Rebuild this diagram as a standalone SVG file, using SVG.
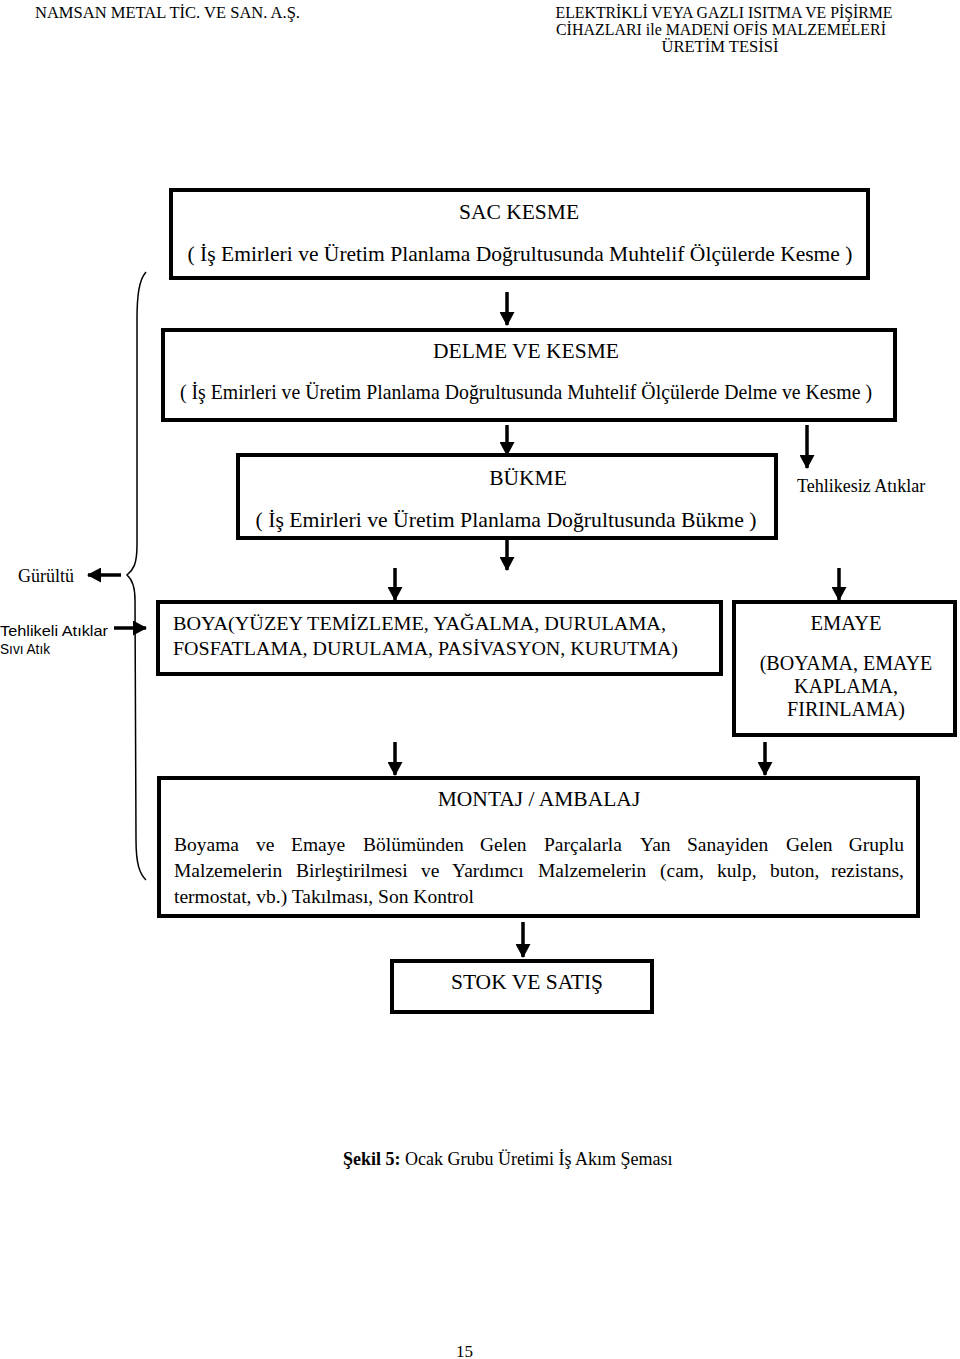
<svg xmlns="http://www.w3.org/2000/svg" width="960" height="1359" viewBox="0 0 960 1359">
<style>
.t{font-family:"Liberation Serif","Times New Roman",serif;fill:#000}
.s{font-family:"Liberation Sans",Arial,sans-serif;fill:#000}
.box{fill:#fff;stroke:#000;stroke-width:4}
.arr{stroke:#000;stroke-width:3.5;fill:none;marker-end:url(#ah)}
</style>
<defs>
<marker id="ah" markerUnits="userSpaceOnUse" markerWidth="15" markerHeight="15" refX="13" refY="7.5" orient="auto">
<path d="M0,0 L14,7.5 L0,15 Z" fill="#000"/>
</marker>
</defs>
<rect width="960" height="1359" fill="#fff"/>

<g id="header">
<text class="t" x="35" y="18" font-size="16" textLength="265" lengthAdjust="spacingAndGlyphs">NAMSAN METAL TİC. VE SAN.  A.Ş.</text>
<text class="t" x="724" y="18" font-size="16" text-anchor="middle" textLength="337" lengthAdjust="spacingAndGlyphs">ELEKTRİKLİ VEYA GAZLI ISITMA VE PİŞİRME</text>
<text class="t" x="721" y="35" font-size="16" text-anchor="middle" textLength="330" lengthAdjust="spacingAndGlyphs">CİHAZLARI ile MADENİ OFİS MALZEMELERİ</text>
<text class="t" x="720" y="52" font-size="16" text-anchor="middle" textLength="117" lengthAdjust="spacingAndGlyphs">ÜRETİM  TESİSİ</text>
</g>

<g id="connectors">
<path d="M146,272 C139,280 137,295 137,320 L137,545 C137,565 133,570 127,575 C133,580 135,588 135,600 L136,840 C136,865 140,874 146,880" fill="none" stroke="#000" stroke-width="1.5"/>
<line class="arr" x1="507" y1="292" x2="507" y2="325"/>
<line class="arr" x1="507" y1="425" x2="507" y2="455"/>
<line class="arr" x1="807" y1="425" x2="807" y2="468"/>
<line class="arr" x1="507" y1="540" x2="507" y2="570"/>
<line class="arr" x1="395" y1="568" x2="395" y2="600"/>
<line class="arr" x1="839" y1="568" x2="839" y2="600"/>
<line class="arr" x1="395" y1="742" x2="395" y2="775"/>
<line class="arr" x1="765" y1="742" x2="765" y2="775"/>
<line class="arr" x1="523" y1="922" x2="523" y2="957"/>
<line class="arr" x1="121" y1="575" x2="88" y2="575"/>
<line class="arr" x1="114" y1="628" x2="146" y2="628"/>
</g>

<g id="labels">
<text class="t" x="797" y="492" font-size="18">Tehlikesiz Atıklar</text>
<text class="t" x="18" y="582" font-size="18">Gürültü</text>
<text class="s" x="0" y="636" font-size="15" textLength="108" lengthAdjust="spacingAndGlyphs">Tehlikeli Atıklar</text>
<text class="s" x="0" y="654" font-size="14" textLength="50" lengthAdjust="spacingAndGlyphs">Sıvı Atık</text>
</g>

<g id="sac-kesme">
<rect class="box" x="171" y="190" width="697" height="88"/>
<text class="t" x="519" y="219" font-size="21.5" text-anchor="middle">SAC KESME</text>
<text class="t" x="520" y="261" font-size="21" text-anchor="middle" textLength="665" lengthAdjust="spacingAndGlyphs">( İş Emirleri ve Üretim Planlama Doğrultusunda Muhtelif Ölçülerde Kesme )</text>
</g>

<g id="delme-kesme">
<rect class="box" x="163" y="330" width="732" height="90"/>
<text class="t" x="526" y="358" font-size="21.5" text-anchor="middle">DELME VE KESME</text>
<text class="t" x="526" y="399" font-size="21" text-anchor="middle" textLength="692" lengthAdjust="spacingAndGlyphs">( İş Emirleri ve Üretim Planlama Doğrultusunda Muhtelif  Ölçülerde Delme ve Kesme )</text>
</g>

<g id="bukme">
<rect class="box" x="238" y="455" width="538" height="83"/>
<text class="t" x="528" y="485" font-size="21.5" text-anchor="middle">BÜKME</text>
<text class="t" x="506" y="527" font-size="21" text-anchor="middle" textLength="501" lengthAdjust="spacingAndGlyphs">( İş Emirleri ve Üretim Planlama Doğrultusunda Bükme )</text>
</g>

<g id="boya">
<rect class="box" x="158" y="602" width="563" height="72"/>
<text class="t" x="173" y="630" font-size="19.5" textLength="493" lengthAdjust="spacingAndGlyphs">BOYA(YÜZEY TEMİZLEME, YAĞALMA, DURULAMA,</text>
<text class="t" x="173" y="655" font-size="19.5" textLength="505" lengthAdjust="spacingAndGlyphs">FOSFATLAMA, DURULAMA, PASİVASYON, KURUTMA)</text>
</g>

<g id="emaye">
<rect class="box" x="734" y="602" width="221" height="133"/>
<text class="t" x="846" y="630" font-size="20.5" text-anchor="middle">EMAYE</text>
<text class="t" x="846" y="670" font-size="20" text-anchor="middle">(BOYAMA, EMAYE</text>
<text class="t" x="846" y="693" font-size="20" text-anchor="middle">KAPLAMA,</text>
<text class="t" x="846" y="716" font-size="20" text-anchor="middle">FIRINLAMA)</text>
</g>

<g id="montaj">
<rect class="box" x="159" y="778" width="759" height="138"/>
<text class="t" x="539" y="806" font-size="21.5" text-anchor="middle">MONTAJ / AMBALAJ</text>
<text class="t" y="851" font-size="19.5"><tspan x="174">Boyama</tspan><tspan x="256">ve</tspan><tspan x="291">Emaye</tspan><tspan x="363">Bölümünden</tspan><tspan x="480">Gelen</tspan><tspan x="544">Parçalarla</tspan><tspan x="640">Yan</tspan><tspan x="687">Sanayiden</tspan><tspan x="786">Gelen</tspan><tspan x="904" text-anchor="end">Gruplu</tspan></text>
<text class="t" y="877" font-size="19.5"><tspan x="174">Malzemelerin</tspan><tspan x="296">Birleştirilmesi</tspan><tspan x="421">ve</tspan><tspan x="452">Yardımcı</tspan><tspan x="538">Malzemelerin</tspan><tspan x="660">(cam,</tspan><tspan x="717">kulp,</tspan><tspan x="770">buton,</tspan><tspan x="904" text-anchor="end">rezistans,</tspan></text>
<text class="t" x="174" y="903" font-size="19.5">termostat, vb.) Takılması, Son Kontrol</text>
</g>

<g id="stok-satis">
<rect class="box" x="392" y="961" width="260" height="51" stroke-width="3.5"/>
<text class="t" x="527" y="989" font-size="21.5" text-anchor="middle">STOK VE SATIŞ</text>
</g>

<g id="caption">
<text class="t" x="343" y="1165" font-size="18"><tspan font-weight="bold">Şekil 5:</tspan> Ocak Grubu Üretimi İş Akım Şeması</text>
<text class="t" x="456" y="1357" font-size="17">15</text>
</g>
</svg>
